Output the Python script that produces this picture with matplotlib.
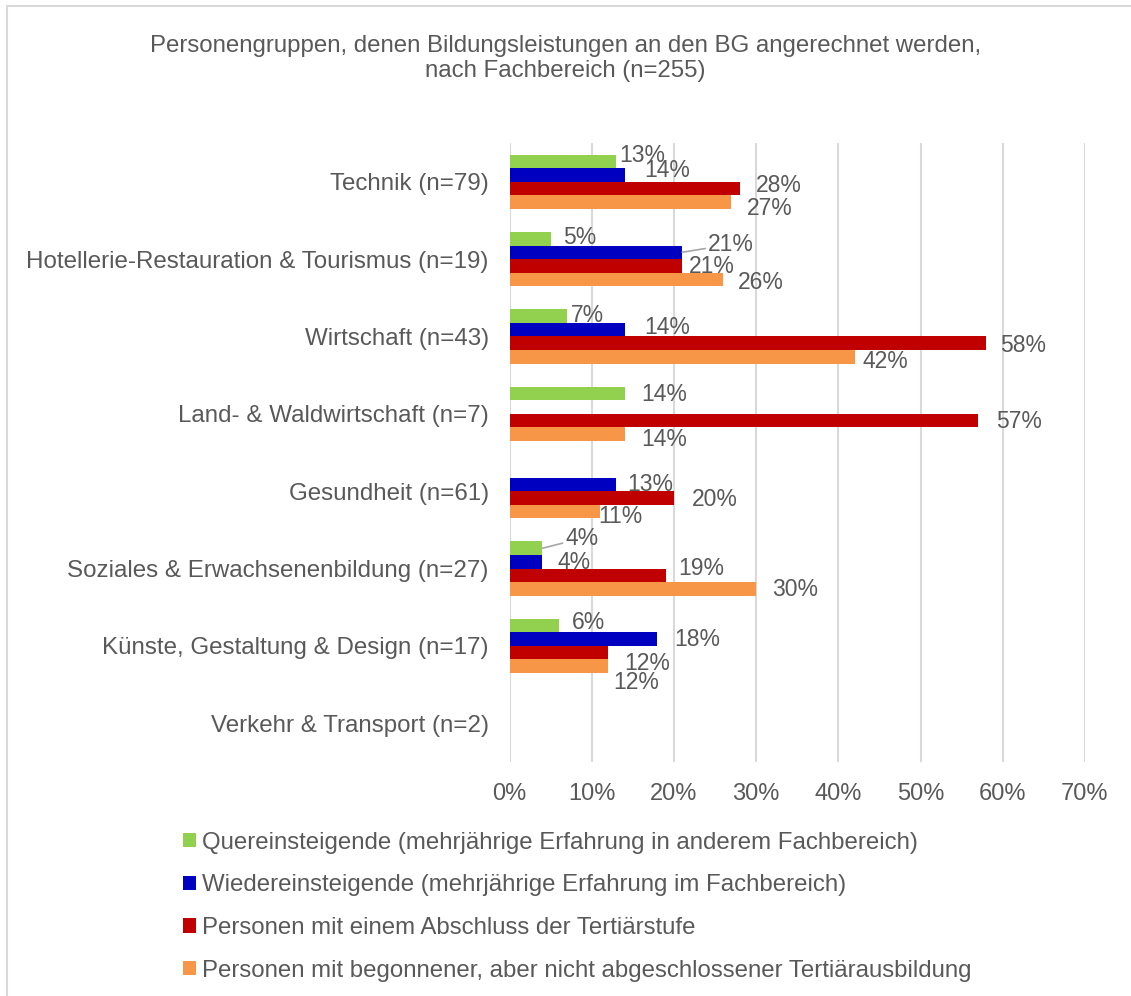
import matplotlib.pyplot as plt
from matplotlib.patches import Rectangle
import numpy as np

plt.rcParams['font.family'] = ['Liberation Sans', 'DejaVu Sans']

categories = ['Technik (n=79)', 'Hotellerie-Restauration & Tourismus (n=19)', 'Wirtschaft (n=43)',
              'Land- & Waldwirtschaft (n=7)', 'Gesundheit (n=61)', 'Soziales & Erwachsenenbildung (n=27)',
              'Künste, Gestaltung & Design (n=17)', 'Verkehr & Transport (n=2)']
series = ['Quereinsteigende (mehrjährige Erfahrung in anderem Fachbereich)',
          'Wiedereinsteigende (mehrjährige Erfahrung im Fachbereich)',
          'Personen mit einem Abschluss der Tertiärstufe',
          'Personen mit begonnener, aber nicht abgeschlossener Tertiärausbildung']
quer = [0.13, 0.05, 0.07, 0.14, 0, 0.04, 0.06, 0]
wieder = [0.14, 0.21, 0.14, 0, 0.13, 0.04, 0.18, 0]
tertiaer = [0.28, 0.21, 0.58, 0.57, 0.20, 0.19, 0.12, 0]
begonnen = [0.27, 0.26, 0.42, 0.14, 0.11, 0.30, 0.12, 0]
colors = ['#92D050', '#0000C0', '#C00000', '#F79646']
title = 'Personengruppen, denen Bildungsleistungen an den BG angerechnet werden,\nnach Fachbereich (n=255)'

# label offsets in pixels (dx right, dy down) relative to bar end, per category/series
label_off = [
    [(3, -6), (20, -4), (16, -3), (15, 7)],
    [(12, -1), (26, -8), (7, 1), (15, 3)],
    [(4, -1), (20, -2), (14, 2), (8, 5)],
    [(17, 1), None, (18, 1), (17, 5)],
    [None, (11, 0), (18, 2), (-2, 5)],
    [(23, -10), (15, 1), (13, -7), (16, 1)],
    [(13, -3), (17, 0), (16, 11), (5, 16)],
    [None, None, None, None],
]
leader = {(1, 1), (5, 0)}

txt = '#595959'
W, H = 1131, 996
fig = plt.figure(figsize=(W / 100, H / 100), dpi=100)
ax = fig.add_axes([509.5 / W, 1 - 762 / H, 575.5 / W, 619 / H])

y = np.arange(len(categories))
h = 0.175
data = [quer, wieder, tertiaer, begonnen]
for j, vals in enumerate(data):
    yy = y + (j - 1.5) * h
    ax.barh(yy, vals, height=h, color=colors[j], label=series[j], zorder=3)
    for i, v in enumerate(vals):
        off = label_off[i][j]
        if off is None or v == 0:
            continue
        dx, dy = off[0] * 0.72, -off[1] * 0.72
        ap = None
        if (i, j) in leader:
            ap = dict(arrowstyle='-', color='#A6A6A6', lw=1.2, shrinkA=0, shrinkB=0)
        ax.annotate(f'{v * 100:.0f}%', xy=(v, yy[i]), xytext=(dx, dy), textcoords='offset points',
                    ha='left', va='center', fontsize=16.5, color=txt, arrowprops=ap, zorder=4)

ax.set_xlim(0, 0.7)
ax.set_ylim(len(categories) - 0.5, -0.5)
ax.set_xticks(np.arange(0, 0.71, 0.1))
ax.set_xticklabels([f'{int(round(t * 100))}%' for t in np.arange(0, 0.71, 0.1)])
ax.set_yticks(y)
ax.set_yticklabels(categories, fontsize=17.4)
ax.tick_params(axis='both', length=0, colors=txt)
ax.tick_params(axis='x', pad=15, labelsize=17)
ax.tick_params(axis='y', pad=15)
ax.grid(axis='x', color='#D9D9D9', lw=1.5, zorder=0)
for s in ax.spines.values():
    s.set_visible(False)

fig.text(0.5, 1 - 58.5 / H, title, ha='center', va='center', fontsize=17.3, color=txt, linespacing=1.15)

fig.legend(loc='upper left', bbox_to_anchor=(161 / W, 1 - 810 / H), frameon=False, fontsize=17.3,
           handlelength=0.55, handleheight=0.55, handletextpad=0.25, labelspacing=0.86, labelcolor=txt)

fig.add_artist(Rectangle((7 / W, -0.1), 1.2, 1 - 6.5 / H + 0.1, transform=fig.transFigure,
                         fill=False, edgecolor='#D9D9D9', lw=1.5, clip_on=False))

fig.savefig('out.png', dpi=100)
